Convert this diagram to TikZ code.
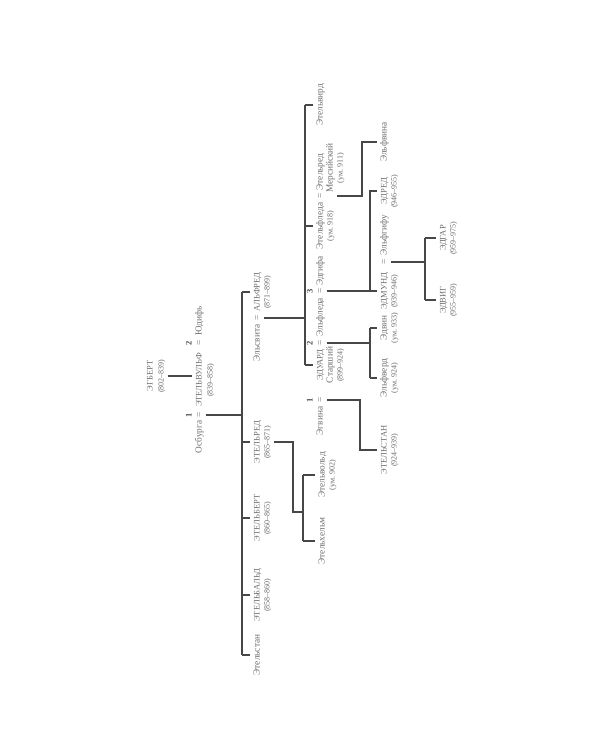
\documentclass[tikz,border=0pt]{standalone}
\usepackage{fontspec}
\setmainfont{Liberation Serif}
\definecolor{txtgray}{gray}{0.42}
\definecolor{lngray}{gray}{0.28}
\tikzset{
  lbl/.style={rotate=90, inner sep=2pt, text height=7pt, text depth=2pt, text=txtgray, font=\fontsize{9.3}{11}\selectfont},
  nm/.style={lbl, font=\fontsize{8.5}{10}\selectfont},
  dt/.style={lbl, font=\fontsize{8}{10}\selectfont},
  num/.style={lbl, text=black!70, font=\fontsize{8.5}{9}\selectfont\bfseries},
  ln/.style={draw=lngray, line width=1.3pt}
}

\begin{document}
\begin{tikzpicture}[x=1pt, y=-1pt]
    \useasboundingbox (0,0) rectangle (600,750);

    % Egbert
    \node[nm] (egbert) at (150,376) {ЭГБЕРТ};
    \node[dt] (egbertd) at (161,376) {(802–839)};

    % Ethelwulf and his wives
    \node[lbl] (osburga) at (199,437) {Осбурга};
    \node[num] (n1a) at (189,415) {1};
    \node[lbl] (eq1a) at (199,415) {=};
    \node[nm] (ethelwulf) at (199,380) {ЭТЕЛЬВУЛЬФ};
    \node[dt] (ethelwulfd) at (210,380) {(839–858)};
    \node[num] (n1b) at (189,343) {2};
    \node[lbl] (eq1b) at (199,343) {=};
    \node[lbl] (judith) at (199,321) {Юдифь};

    % sons of Ethelwulf
    \node[lbl] (ethelstanA) at (257,655) {Этельстан};
    \node[nm] (ethelbald) at (257,595) {ЭТЕЛЬБАЛЬД};
    \node[dt] (ethelbaldd) at (267,595) {(858–860)};
    \node[nm] (ethelbert) at (257,518) {ЭТЕЛЬБЕРТ};
    \node[dt] (ethelbertd) at (267,518) {(860–865)};
    \node[nm] (ethelred) at (257,442) {ЭТЕЛЬРЕД};
    \node[dt] (ethelredd) at (267,442) {(865–871)};
    \node[lbl] (ealhswith) at (257,343) {Эльсвита};
    \node[lbl] (eqA) at (257,318) {=};
    \node[nm] (alfred) at (257,292) {АЛЬФРЕД};
    \node[dt] (alfredd) at (267,292) {(871–899)};

    % sons of Ethelred
    \node[lbl] (ethelwold) at (322,475) {Этельвольд};
    \node[dt] (ethelwoldd) at (332,475) {(ум. 902)};
    \node[lbl] (ethelhelm) at (322,541) {Этельхельм};

    % children of Alfred
    \node[lbl] (aethelweard) at (320,105) {Этельвирд};
    \node[lbl] (aethelredM) at (320,172) {Этельред};
    \node[lbl] (merc) at (330,168) {Мерсийский};
    \node[dt] (aethelredMd) at (340,168) {(ум. 911)};
    \node[lbl] (eqE) at (320,196) {=};
    \node[lbl] (aethelflaed) at (320,226) {Этельфледа};
    \node[dt] (aethelflaedd) at (330,226) {(ум. 918)};
    \node[lbl] (aelfwynn) at (384,142) {Эльфвина};

    % Edward and his wives
    \node[lbl] (egwina) at (320,421) {Эгвина};
    \node[num] (n3a) at (310,400) {1};
    \node[lbl] (eq3a) at (320,400) {=};
    \node[nm] (edward) at (320,365) {ЭДУАРД};
    \node[lbl] (edwards) at (330,365) {Старший};
    \node[dt] (edwardd) at (340,365) {(899–924)};
    \node[num] (n3b) at (310,343) {2};
    \node[lbl] (eq3b) at (320,343) {=};
    \node[lbl] (aelfflaed) at (320,317) {Эльфледа};
    \node[num] (n3c) at (310,291) {3};
    \node[lbl] (eq3c) at (320,291) {=};
    \node[lbl] (eadgifu) at (320,271) {Эдгифа};

    % children of Edward
    \node[nm] (athelstan) at (384,450) {ЭТЕЛЬСТАН};
    \node[dt] (athelstand) at (394,450) {(924–939)};
    \node[lbl] (aelfweard) at (384,378) {Эльфверд};
    \node[dt] (aelfweardd) at (394,378) {(ум. 924)};
    \node[lbl] (edwin) at (384,328) {Эдвин};
    \node[dt] (edwind) at (394,328) {(ум. 933)};
    \node[nm] (edmund) at (384,291) {ЭДМУНД};
    \node[dt] (edmundd) at (394,291) {(939–946)};
    \node[lbl] (eq4) at (384,262) {=};
    \node[lbl] (aelfgifu) at (384,235) {Эльфгифу};
    \node[nm] (eadred) at (384,191) {ЭДРЕД};
    \node[dt] (eadredd) at (394,191) {(946–955)};

    % sons of Edmund
    \node[nm] (edgar) at (443,238) {ЭДГАР};
    \node[dt] (edgard) at (453,238) {(959–975)};
    \node[nm] (eadwig) at (443,300) {ЭДВИГ};
    \node[dt] (eadwigd) at (453,300) {(955–959)};

    % lines of descent
    \draw[ln] (egbertd.south) -- (egbertd.south -| ethelwulf.north);

    \coordinate (trunk) at (242,415);
    \draw[ln] (eq1a.south) -- (trunk);
    \draw[ln] (trunk |- alfred) -- (trunk |- ethelstanA);
    \foreach \c in {alfred, ethelred, ethelbert, ethelbald, ethelstanA}
        \draw[ln] (trunk |- \c) -- (\c.north);

    \coordinate (kEth) at (293,442);
    \coordinate (bEth) at (303,512);
    \draw[ln] (ethelredd.south) -- (kEth) |- (bEth);
    \draw[ln] (bEth |- ethelwold) -- (bEth |- ethelhelm);
    \foreach \c in {ethelwold, ethelhelm}
        \draw[ln] (bEth |- \c) -- (\c.north);

    \coordinate (bAlf) at (305,318);
    \draw[ln] (eqA.south) -- (bAlf);
    \draw[ln] (bAlf |- aethelweard) -- (bAlf |- edward);
    \foreach \c in {aethelweard, aethelflaed, edward}
        \draw[ln] (bAlf |- \c) -- (\c.north);

    \coordinate (bAfl) at (362,196);
    \draw[ln] (merc.south |- eqE) -- (bAfl) |- (aelfwynn.north);

    \coordinate (bEgw) at (360,400);
    \draw[ln] (eq3a.south) -- (bEgw) |- (athelstan.north);

    \coordinate (bElf) at (370,343);
    \draw[ln] (eq3b.south) -- (bElf);
    \draw[ln] (bElf |- edwin) -- (bElf |- aelfweard);
    \foreach \c in {edwin, aelfweard}
        \draw[ln] (bElf |- \c) -- (\c.north);

    \coordinate (bEad) at (370,291);
    \draw[ln] (eq3c.south) -- (eq3c.south -| edmund.north);
    \draw[ln] (bEad) |- (eadred.north);

    \coordinate (bEdm) at (425,262);
    \draw[ln] (eq4.south) -- (bEdm);
    \draw[ln] (bEdm |- edgar) -- (bEdm |- eadwig);
    \foreach \c in {edgar, eadwig}
        \draw[ln] (bEdm |- \c) -- (\c.north);
\end{tikzpicture}
\end{document}
